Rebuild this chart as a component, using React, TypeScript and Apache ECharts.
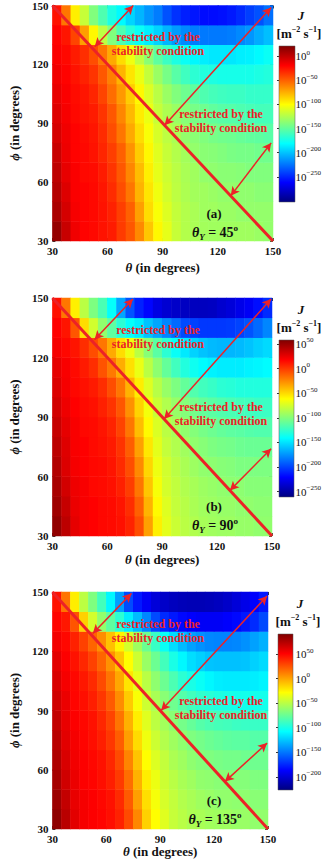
import React, { useEffect, useRef } from 'react';
import * as echarts from 'echarts';

// cell centres (degrees)
const THETA_CELLS = ['32.5', '37.5', '42.5', '47.5', '52.5', '57.5', '62.5', '67.5', '72.5', '77.5', '82.5', '87.5',
  '92.5', '97.5', '102.5', '107.5', '112.5', '117.5', '122.5', '127.5', '132.5', '137.5', '142.5', '147.5'];
const PHI_CELLS = ['35', '45', '55', '65', '75', '85', '95', '105', '115', '125', '135', '145'];

// log10 J, rows from phi = 35 (bottom) to phi = 145 (top)
const LOGJ_A = [
  [14, -2, -15, -20, -22, -25, -28, -38, -47, -63, -82, -98, -108, -118, -124, -127, -129, -130, -130, -130, -130, -130, -132, -134],
  [7, -6, -17, -20, -22, -25, -30, -39, -50, -70, -89, -102, -111, -119, -124, -127, -130, -130, -132, -132, -134, -134, -134, -134],
  [4, -9, -18, -20, -22, -26, -33, -44, -57, -76, -92, -105, -114, -121, -126, -129, -130, -132, -134, -134, -135, -135, -137, -137],
  [1, -12, -18, -22, -23, -28, -36, -47, -62, -79, -95, -108, -116, -122, -127, -130, -134, -135, -137, -137, -138, -140, -140, -140],
  [-2, -14, -20, -22, -25, -31, -39, -50, -66, -84, -98, -110, -118, -124, -129, -134, -137, -138, -140, -142, -143, -143, -145, -145],
  [-6, -15, -20, -23, -26, -33, -44, -57, -73, -89, -102, -113, -121, -127, -134, -137, -140, -143, -145, -146, -148, -150, -151, -153],
  [-9, -17, -22, -25, -28, -36, -47, -62, -78, -94, -106, -118, -126, -132, -138, -143, -146, -150, -153, -154, -156, -158, -159, -159],
  [-12, -18, -23, -26, -31, -41, -54, -68, -84, -98, -111, -122, -132, -140, -146, -151, -156, -159, -161, -162, -162, -164, -164, -164],
  [-15, -20, -25, -30, -36, -47, -60, -76, -92, -106, -119, -132, -143, -153, -161, -167, -170, -172, -174, -174, -174, -174, -172, -170],
  [-18, -22, -28, -34, -44, -57, -73, -89, -105, -121, -137, -151, -162, -172, -178, -183, -186, -188, -188, -188, -186, -185, -182, -178],
  [-20, -26, -41, -70, -98, -121, -140, -156, -169, -178, -186, -194, -204, -212, -218, -222, -223, -223, -223, -222, -218, -214, -207, -201],
  [-25, -57, -95, -118, -140, -156, -172, -182, -194, -204, -214, -222, -236, -246, -252, -255, -258, -258, -257, -254, -249, -242, -236, -226],
];
const LOGJ_B = [
  [52, 39, 26, 20, 18, 16, 15, 13, 7, -6, -32, -57, -70, -78, -83, -86, -89, -91, -92, -92, -94, -94, -96, -96],
  [48, 36, 24, 20, 18, 16, 15, 12, 4, -12, -38, -60, -72, -80, -84, -88, -91, -92, -94, -94, -96, -96, -97, -97],
  [45, 32, 23, 20, 16, 15, 13, 8, -1, -19, -44, -64, -75, -81, -86, -89, -92, -94, -96, -97, -97, -99, -99, -99],
  [42, 29, 21, 18, 16, 15, 12, 5, -6, -25, -49, -67, -76, -83, -88, -92, -96, -97, -99, -100, -102, -102, -102, -102],
  [39, 28, 20, 18, 15, 13, 10, 2, -11, -32, -54, -70, -80, -86, -91, -96, -99, -102, -104, -105, -107, -108, -108, -108],
  [36, 26, 20, 16, 15, 12, 7, -3, -19, -41, -60, -73, -83, -89, -96, -100, -104, -107, -110, -112, -113, -115, -116, -116],
  [32, 23, 18, 15, 13, 8, 2, -9, -27, -48, -65, -78, -86, -94, -100, -105, -110, -113, -116, -118, -120, -121, -123, -123],
  [29, 21, 16, 13, 10, 4, -6, -19, -38, -56, -72, -84, -94, -102, -110, -116, -121, -124, -128, -129, -131, -131, -131, -131],
  [26, 20, 15, 10, 4, -8, -20, -36, -52, -68, -83, -97, -110, -121, -131, -137, -142, -145, -147, -147, -147, -145, -144, -142],
  [21, 16, 12, 4, -6, -19, -35, -51, -67, -83, -99, -113, -128, -139, -148, -155, -160, -163, -164, -164, -163, -160, -156, -153],
  [18, 12, -9, -51, -76, -96, -112, -128, -140, -147, -160, -169, -179, -188, -198, -201, -204, -204, -204, -203, -200, -195, -188, -179],
  [13, -19, -57, -83, -102, -118, -140, -169, -195, -211, -220, -230, -235, -238, -240, -241, -241, -240, -236, -233, -228, -224, -217, -208],
];
const LOGJ_C = [
  [86, 73, 60, 54, 52, 50, 47, 41, 28, 9, -14, -28, -38, -46, -50, -54, -55, -57, -58, -58, -60, -60, -62, -62],
  [82, 70, 58, 54, 52, 49, 46, 38, 23, 2, -18, -31, -41, -47, -52, -55, -58, -60, -62, -62, -63, -63, -65, -65],
  [79, 66, 57, 52, 50, 47, 42, 33, 17, -4, -23, -34, -44, -50, -55, -58, -62, -63, -65, -65, -66, -66, -68, -68],
  [76, 63, 55, 52, 49, 46, 39, 28, 10, -10, -28, -39, -47, -54, -58, -63, -66, -68, -70, -71, -71, -73, -73, -73],
  [73, 60, 54, 50, 47, 42, 34, 22, 2, -17, -33, -44, -52, -58, -63, -68, -71, -74, -76, -78, -79, -79, -81, -81],
  [70, 58, 52, 49, 46, 39, 30, 15, -4, -23, -38, -49, -57, -65, -71, -76, -81, -84, -86, -87, -89, -90, -90, -90],
  [66, 57, 50, 47, 42, 34, 23, 7, -12, -30, -44, -55, -65, -73, -81, -87, -92, -95, -98, -100, -102, -102, -102, -102],
  [63, 54, 49, 44, 38, 28, 15, -1, -20, -36, -50, -63, -74, -84, -94, -100, -105, -110, -113, -114, -114, -114, -113, -111],
  [60, 52, 46, 39, 31, 20, 6, -10, -28, -44, -60, -74, -87, -100, -110, -118, -122, -126, -127, -127, -127, -126, -122, -119],
  [55, 49, 41, 31, 20, 7, -9, -25, -42, -58, -74, -90, -105, -118, -129, -137, -142, -145, -146, -146, -145, -142, -137, -132],
  [50, 44, 25, -14, -42, -62, -78, -94, -113, -129, -145, -164, -174, -180, -185, -188, -190, -190, -190, -188, -185, -180, -174, -164],
  [46, 15, -23, -49, -68, -87, -110, -138, -164, -180, -190, -199, -204, -207, -209, -210, -210, -209, -207, -204, -199, -194, -188, -180],
];

// colour-bar ranges (log10 J) and tick labels
const RANGE_A = [-302, 21];
const RANGE_B = [-261, 58];
const RANGE_C = [-227, 91];
const CB_TICKS_A = [0, -50, -100, -150, -200, -250];
const CB_TICKS_B = [50, 0, -50, -100, -150, -200, -250];
const CB_TICKS_C = [50, 0, -50, -100, -150, -200];

const THETA_Y = ['45', '90', '135'];
const TAGS = ['(a)', '(b)', '(c)'];

// stability boundary and double arrows ([theta, phi] pairs)
const DIAGONAL = [[30, 150], [150, 30]];
const ARROWS_A = [[[53, 129], [74, 150]], [[91, 89], [149, 149]], [[127, 53], [149, 80]]];
const ARROWS_B = [[[53, 129], [74, 149.5]], [[91, 89], [149.5, 149.5]], [[127, 53], [149.5, 74]]];
const ARROWS_C = [[[52.5, 129], [74, 149.3]], [[90.5, 90], [149.5, 148]], [[126, 54], [149.5, 73.5]]];

const FONT = '"Liberation Serif", "Times New Roman", serif';
const RED = '#ec2227';
const JET = ['#00007f', '#0000ff', '#007fff', '#00ffff', '#7fff7f', '#ffff00', '#ff7f00', '#ff0000', '#7f0000'];

const PANELS = [
  { rows: LOGJ_A, range: RANGE_A, ticks: CB_TICKS_A, arrows: ARROWS_A, plot: { left: 40, top: 5, width: 233, height: 236 }, cb: { left: 279, top: 46, width: 16, height: 156 }, nameGap: 20 },
  { rows: LOGJ_B, range: RANGE_B, ticks: CB_TICKS_B, arrows: ARROWS_B, plot: { left: 40, top: 298, width: 232, height: 238 }, cb: { left: 279, top: 340, width: 15, height: 157 }, nameGap: 17 },
  { rows: LOGJ_C, range: RANGE_C, ticks: CB_TICKS_C, arrows: ARROWS_C, plot: { left: 39, top: 592, width: 229, height: 237 }, cb: { left: 278, top: 634, width: 15, height: 156 }, nameGap: 13 },
];

function cbLabel(v: number) {
  const s = v < 0 ? '\u2212' + (-v) : String(v);
  return '{b|10}{s|' + s + '}';
}

function buildOption() {
  const grid: any[] = [];
  const xAxis: any[] = [];
  const yAxis: any[] = [];
  const series: any[] = [];
  const visualMap: any[] = [];
  const graphic: any[] = [];

  const tickStyle = { inside: true, length: 3, lineStyle: { color: '#333', width: 1 } };
  const labelStyle = { fontFamily: FONT, fontWeight: 'bold', fontSize: 11, color: '#111' };
  const nameRich = {
    i: { fontFamily: FONT, fontWeight: 'bold', fontStyle: 'italic', fontSize: 13, color: '#111' },
    n: { fontFamily: FONT, fontWeight: 'bold', fontSize: 13, color: '#111' },
  };
  const redText = { fontFamily: FONT, fontWeight: 'bold', fontSize: 12, lineHeight: 14, fill: RED, align: 'center', verticalAlign: 'middle' };

  PANELS.forEach((p, i) => {
    const g = i * 2;
    const a = i * 4;
    grid.push({ ...p.plot }, { ...p.cb });

    xAxis.push(
      { type: 'category', gridIndex: g, data: THETA_CELLS, show: false, boundaryGap: true },
      {
        type: 'value', gridIndex: g, min: 30, max: 150, interval: 30, position: 'bottom',
        name: '{i|\u03b8}{n| (in degrees)}', nameLocation: 'middle', nameGap: p.nameGap,
        nameTextStyle: { rich: nameRich },
        axisLine: { show: false }, axisTick: tickStyle, splitLine: { show: false },
        axisLabel: { ...labelStyle, margin: 4 },
      },
      {
        type: 'value', gridIndex: g, min: 30, max: 150, interval: 30, position: 'top',
        axisLine: { show: false }, axisTick: tickStyle, axisLabel: { show: false }, splitLine: { show: false },
      },
      { type: 'value', gridIndex: g + 1, min: 0, max: 1, show: false },
    );

    yAxis.push(
      { type: 'category', gridIndex: g, data: PHI_CELLS, show: false, boundaryGap: true },
      {
        type: 'value', gridIndex: g, min: 30, max: 150, interval: 30, position: 'left',
        name: '{i|\u03d5}{n| (in degrees)}', nameLocation: 'middle', nameGap: 24, nameRotate: 90,
        nameTextStyle: { rich: nameRich },
        axisLine: { show: false }, axisTick: tickStyle, splitLine: { show: false },
        axisLabel: { ...labelStyle, margin: 4 },
      },
      {
        type: 'value', gridIndex: g, min: 30, max: 150, interval: 30, position: 'right',
        axisLine: { show: false }, axisTick: tickStyle, axisLabel: { show: false }, splitLine: { show: false },
      },
      {
        type: 'value', gridIndex: g + 1, min: p.range[0], max: p.range[1], position: 'right',
        axisLine: { show: false }, splitLine: { show: false },
        axisTick: { show: true, inside: true, length: 2, customValues: p.ticks, lineStyle: { color: '#333' } },
        axisLabel: {
          customValues: p.ticks, margin: 3, formatter: (v: number) => cbLabel(v),
          rich: {
            b: { fontFamily: FONT, fontSize: 11, color: '#111', lineHeight: 14 },
            s: { fontFamily: FONT, fontSize: 7, color: '#111', lineHeight: 8, verticalAlign: 'top' },
          },
        },
      },
    );

    const data: any[] = [];
    p.rows.forEach((row, j) => row.forEach((v, k) => data.push([k, j, v])));
    series.push(
      {
        type: 'heatmap', xAxisIndex: a, yAxisIndex: a, data, silent: true,
        emphasis: { disabled: true }, itemStyle: { borderWidth: 0 },
      },
      {
        type: 'line', xAxisIndex: a + 1, yAxisIndex: a + 1, data: DIAGONAL, symbol: 'none', silent: true,
        lineStyle: { color: RED, width: 3 }, z: 5,
        markLine: {
          silent: true, symbol: ['arrow', 'arrow'], symbolSize: [7, 9],
          lineStyle: { color: RED, width: 1.5, type: 'solid' }, label: { show: false },
          data: p.arrows.map((ar) => [{ coord: ar[0] }, { coord: ar[1] }]),
        },
      },
    );

    visualMap.push({
      type: 'continuous', show: false, seriesIndex: i * 2, min: p.range[0], max: p.range[1],
      inRange: { color: JET },
    });

    const top = p.plot.top;
    graphic.push(
      {
        type: 'rect', z: 3,
        shape: { x: p.cb.left, y: p.cb.top, width: p.cb.width, height: p.cb.height },
        style: {
          fill: new echarts.graphic.LinearGradient(0, 1, 0, 0, JET.map((c, k) => ({ offset: k / (JET.length - 1), color: c }))),
          stroke: '#555', lineWidth: 0.5,
        },
      },
      {
        type: 'text', z: 10, x: p.cb.left + 22, y: p.cb.top - 31,
        style: { text: 'J', fontFamily: FONT, fontWeight: 'bold', fontStyle: 'italic', fontSize: 13, fill: '#111', align: 'center', verticalAlign: 'middle' },
      },
      {
        type: 'text', z: 10, x: p.cb.left + 20, y: p.cb.top - 13,
        style: {
          text: '{b|[m}{s|\u22122}{b| s}{s|\u22121}{b|]}', align: 'center', verticalAlign: 'middle',
          rich: {
            b: { fontFamily: FONT, fontWeight: 'bold', fontSize: 13, fill: '#111', lineHeight: 16 },
            s: { fontFamily: FONT, fontWeight: 'bold', fontSize: 8, fill: '#111', lineHeight: 9, verticalAlign: 'top' },
          },
        },
      },
      { type: 'text', z: 10, x: 158, y: top + 39, style: { text: 'restricted by the\nstability condition', ...redText } },
      { type: 'text', z: 10, x: 221, y: top + 116, style: { text: 'restricted by the\nstability condition', ...redText } },
      {
        type: 'text', z: 10, x: 214, y: top + 208,
        style: { text: TAGS[i], fontFamily: FONT, fontWeight: 'bold', fontSize: 13, fill: '#111', align: 'center', verticalAlign: 'middle' },
      },
      {
        type: 'text', z: 10, x: 215, y: top + 227,
        style: {
          text: '{t|\u03b8}{u|Y}{n| = ' + THETA_Y[i] + '}{o|o}', align: 'center', verticalAlign: 'middle',
          rich: {
            t: { fontFamily: FONT, fontWeight: 'bold', fontStyle: 'italic', fontSize: 14, fill: '#111', lineHeight: 18 },
            u: { fontFamily: FONT, fontWeight: 'bold', fontStyle: 'italic', fontSize: 9, fill: '#111', lineHeight: 9, verticalAlign: 'bottom' },
            n: { fontFamily: FONT, fontWeight: 'bold', fontSize: 14, fill: '#111', lineHeight: 18 },
            o: { fontFamily: FONT, fontWeight: 'bold', fontSize: 9, fill: '#111', lineHeight: 9, verticalAlign: 'top' },
          },
        },
      },
    );
  });

  return { animation: false, backgroundColor: '#ffffff', grid, xAxis, yAxis, series, visualMap, graphic };
}

export default function App() {
  const ref = useRef<HTMLDivElement>(null);
  useEffect(() => {
    if (!ref.current) return;
    const chart = echarts.init(ref.current, undefined, { renderer: 'svg' });
    chart.setOption(buildOption() as any);
    return () => chart.dispose();
  }, []);
  return (
    <div
      ref={ref}
      style={{ position: 'absolute', left: 0, top: 0, width: 324, height: 860, background: '#fff' }}
    />
  );
}
